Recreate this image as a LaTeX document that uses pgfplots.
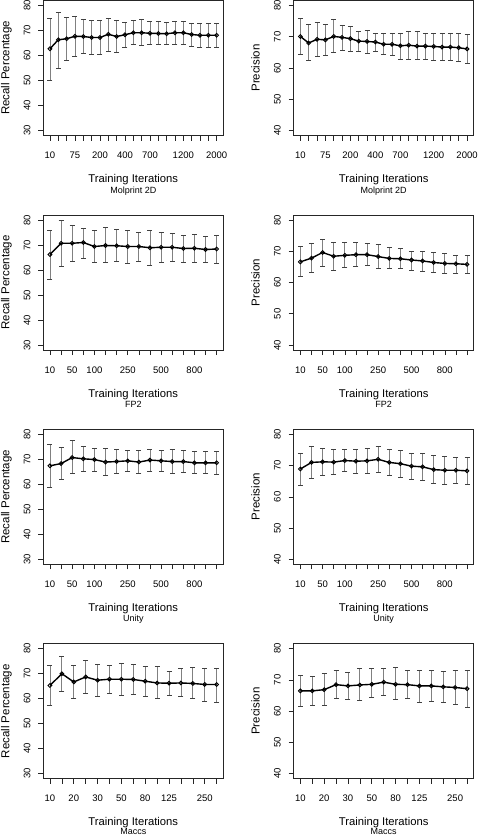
\documentclass[border=0pt]{standalone}
\usepackage{pgfplots}
\usepackage{pgfplotstable}
\pgfplotsset{compat=1.18}
\usepackage{fontspec}
\setmainfont{Liberation Sans}

\pgfplotstableread{
x y lo hi
1 62.7 50.0 74.7
2 66.3 54.7 77.3
3 66.7 58.0 75.3
4 67.7 59.7 75.5
5 67.6 60.7 74.3
6 67.2 60.3 73.9
7 67.2 60.3 73.9
8 68.5 61.7 74.7
9 67.6 61.3 73.9
10 68.3 63.1 73.1
11 69.1 64.5 73.9
12 69.1 64.1 74.3
13 68.9 64.3 73.5
14 68.8 64.3 73.5
15 68.7 64.5 73.1
16 69.1 64.5 73.5
17 69.1 64.5 73.5
18 68.4 63.7 72.9
19 68.1 63.1 72.9
20 68.1 63.3 72.7
21 68.1 63.1 72.7
}\molrec
\pgfplotstableread{
x y lo hi
1 70.1 64.2 75.9
2 68.0 62.4 73.8
3 69.2 63.7 74.5
4 69.0 64.1 73.8
5 70.1 64.9 75.4
6 69.8 65.6 73.5
7 69.4 65.4 73.2
8 68.6 65.4 71.6
9 68.5 64.8 71.9
10 68.3 65.3 71.0
11 67.6 64.3 71.0
12 67.6 64.0 71.2
13 67.1 62.8 71.2
14 67.3 62.8 71.6
15 67.0 62.6 71.6
16 67.0 62.6 71.2
17 66.9 62.3 71.2
18 66.7 62.3 71.0
19 66.7 62.3 71.0
20 66.5 62.1 71.0
21 66.1 61.6 70.7
}\molpre
\pgfplotstableread{
x y lo hi
1 66.2 56.4 75.8
2 70.7 61.3 79.8
3 70.7 63.6 77.8
4 71.0 64.8 76.5
5 69.4 63.0 75.8
6 69.8 63.0 76.9
7 69.7 63.6 76.2
8 69.4 62.5 75.8
9 69.4 63.6 75.2
10 68.9 61.8 75.8
11 69.1 63.0 75.2
12 69.1 63.6 74.5
13 68.6 63.0 74.0
14 68.7 63.0 74.2
15 68.2 63.0 73.3
16 68.4 62.5 74.0
}\fprec
\pgfplotstableread{
x y lo hi
1 66.6 61.9 71.4
2 67.8 63.1 72.4
3 69.6 65.3 73.8
4 68.4 64.0 72.7
5 68.7 64.8 72.7
6 68.9 65.1 72.7
7 68.9 65.4 72.4
8 68.3 64.4 72.1
9 67.7 64.4 71.1
10 67.6 64.4 70.8
11 67.2 64.0 70.1
12 66.9 63.5 69.8
13 66.4 63.1 69.5
14 66.1 62.8 69.2
15 66.0 62.8 68.7
16 65.8 62.8 68.6
}\fppre
\pgfplotstableread{
x y lo hi
1 67.4 58.9 75.8
2 68.3 62.0 74.8
3 70.7 64.5 77.5
4 70.2 65.3 75.0
5 69.9 65.3 74.2
6 68.9 63.5 74.4
7 69.1 64.3 74.0
8 69.4 65.1 73.6
9 68.9 64.3 73.6
10 69.7 65.3 74.0
11 69.4 65.1 73.6
12 69.1 64.5 74.0
13 69.1 64.7 73.6
14 68.6 64.3 73.0
15 68.6 64.3 73.3
16 68.6 63.9 73.3
}\unrec
\pgfplotstableread{
x y lo hi
1 68.9 63.7 73.8
2 71.0 65.8 76.0
3 71.2 67.0 75.5
4 71.1 67.1 75.2
5 71.6 68.2 75.2
6 71.4 67.5 75.2
7 71.5 67.5 75.5
8 72.0 67.9 76.0
9 71.0 66.9 75.2
10 70.6 66.2 74.9
11 69.8 65.7 73.9
12 69.6 65.1 73.9
13 68.7 64.2 73.2
14 68.5 63.9 72.9
15 68.5 64.3 72.5
16 68.3 63.9 72.5
}\unpre
\pgfplotstableread{
x y lo hi
1 65.3 57.2 73.2
2 70.0 63.1 76.8
3 66.7 60.0 73.2
4 68.7 62.3 75.3
5 67.4 60.9 73.6
6 67.8 62.3 73.2
7 67.8 61.5 74.0
8 67.7 61.6 73.6
9 67.0 60.9 72.8
10 66.3 60.0 72.8
11 66.2 61.2 70.9
12 66.3 60.9 72.0
13 66.1 60.0 72.4
14 65.7 59.0 72.0
15 65.7 58.7 72.0
}\macrec
\pgfplotstableread{
x y lo hi
1 66.5 61.4 71.3
2 66.5 61.8 71.0
3 66.9 61.8 72.2
4 68.5 64.1 73.2
5 68.1 63.8 72.4
6 68.4 63.3 73.6
7 68.6 64.3 73.6
8 69.3 65.0 73.6
9 68.6 63.7 73.9
10 68.5 64.1 72.9
11 68.1 62.7 73.2
12 68.1 63.2 73.2
13 67.8 62.7 72.6
14 67.6 62.3 73.2
15 67.2 61.2 73.2
}\macpre

\pgfplotsset{
  base/.style={scale only axis, width=180pt, height=135pt, anchor=north west,
    axis line style={black!85, line width=0.6pt},
    tick style={black!85, line width=0.6pt},
    major tick length=5pt, tick align=outside,
    xtick pos=bottom, ytick pos=left, clip=false,
    /pgf/number format/assume math mode=true,
    ticklabel style={font=\fontsize{9.5}{11}\selectfont},
    xticklabel style={anchor=base, yshift=-18pt},
    yticklabel style={xshift=-8pt, rotate=90, anchor=base},
  },
  recall/.style={ymin=28, ymax=82, ytick={30,40,...,80}},
  prec/.style={ymin=38.4, ymax=81.6, ytick={40,50,...,80}},
  mol/.style={xmin=0.2, xmax=21.8, xtick={1,...,21},
    xticklabels={10,,,75,,,200,,,400,,,700,,,,1200,,,,2000}},
  fp/.style={xmin=0.4, xmax=16.6, xtick={1,...,16},
    xticklabels={10,,50,,100,,,250,,,500,,,800,,}},
  mac/.style={xmin=0.44, xmax=15.56, xtick={1,...,15},
    xticklabels={10,,20,,30,,50,,80,,125,,,250,}},
}

\newcommand{\dataplot}[1]{%
  \addplot[draw=none, forget plot,
    error bars/.cd, y dir=both, y explicit,
    error bar style={draw=gray, line width=0.8pt},
    error mark options={rotate=90, mark size=2.5pt, draw=black!75, line width=0.8pt}]
    table[x=x, y=y, y error plus expr=\thisrow{hi}-\thisrow{y}, y error minus expr=\thisrow{y}-\thisrow{lo}] {#1};
  \addplot[black, line width=1.4pt, mark=o, mark size=1.9pt, mark options={line width=0.9pt}]
    table[x=x, y=y] {#1};
}
\newcommand{\labels}[3]{%
  \node[rotate=90, anchor=base, font=\fontsize{11.5}{13}\selectfont] at ([xshift=-34pt]axis description cs:0,0.5) {#1};
  \node[anchor=base, font=\fontsize{11.25}{13}\selectfont] at ([yshift=-47pt]axis description cs:0.5,0) {Training Iterations};
  \node[anchor=base, font=\fontsize{9}{10}\selectfont] at ([yshift=-#3pt]axis description cs:0.5,0) {#2};
}

\begin{document}
\begin{tikzpicture}
\path[use as bounding box] (0pt,0pt) rectangle (477pt,-836pt);

\begin{axis}[base, recall, mol, at={(43.3pt,-0.5pt)}]
\dataplot{\molrec}
\labels{Recall Percentage}{Molprint 2D}{57.5}
\end{axis}
\begin{axis}[base, prec, mol, at={(293.7pt,-0.5pt)}]
\dataplot{\molpre}
\labels{Precision}{Molprint 2D}{57.5}
\end{axis}

\begin{axis}[base, recall, fp, at={(43.3pt,-215pt)}]
\dataplot{\fprec}
\labels{Recall Percentage}{FP2}{57.5}
\end{axis}
\begin{axis}[base, prec, fp, at={(293.7pt,-215pt)}]
\dataplot{\fppre}
\labels{Precision}{FP2}{57.5}
\end{axis}

\begin{axis}[base, recall, fp, at={(43.3pt,-429.3pt)}]
\dataplot{\unrec}
\labels{Recall Percentage}{Unity}{57.5}
\end{axis}
\begin{axis}[base, prec, fp, at={(293.7pt,-429.3pt)}]
\dataplot{\unpre}
\labels{Precision}{Unity}{57.5}
\end{axis}

\begin{axis}[base, recall, mac, at={(43.3pt,-643.7pt)}]
\dataplot{\macrec}
\labels{Recall Percentage}{Maccs}{55.5}
\end{axis}
\begin{axis}[base, prec, mac, at={(293.7pt,-643.7pt)}]
\dataplot{\macpre}
\labels{Precision}{Maccs}{55.5}
\end{axis}
\end{tikzpicture}
\end{document}
